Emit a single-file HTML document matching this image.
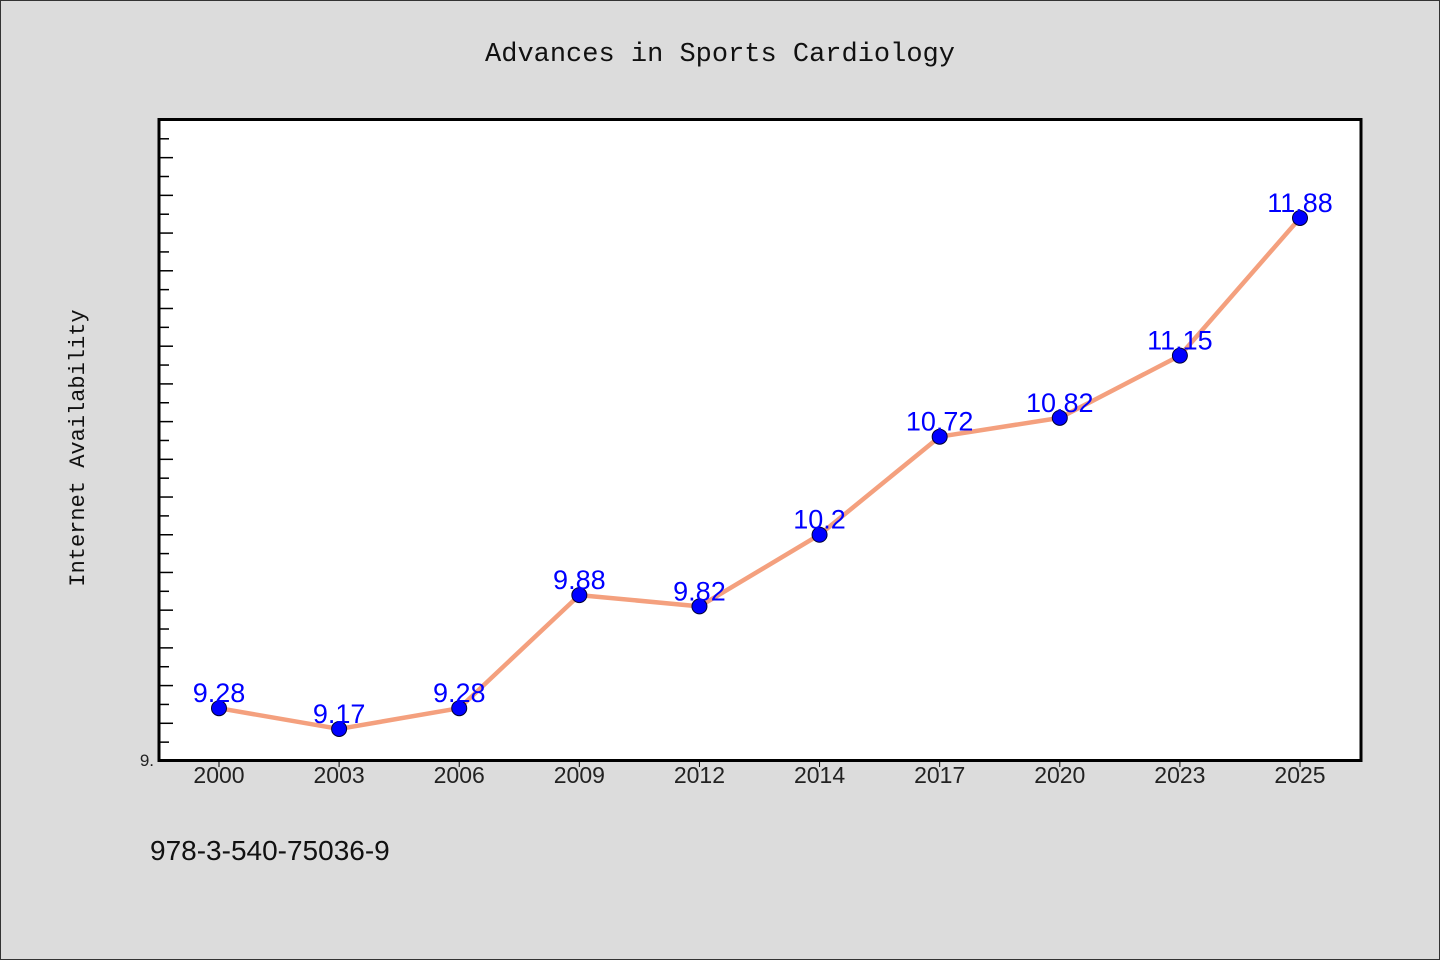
<!DOCTYPE html>
<html><head><meta charset="utf-8"><style>
body{margin:0;background:#dcdcdc;}
svg{display:block;}
</style></head><body>
<svg width="1440" height="960" xmlns="http://www.w3.org/2000/svg">
<rect x="0.5" y="0.5" width="1439" height="959" fill="#dcdcdc" stroke="#333"/>
<text x="720" y="61" text-anchor="middle" font-family="Liberation Mono, monospace" font-size="27" fill="#111">Advances in Sports Cardiology</text>
<rect x="159" y="119.5" width="1202" height="641" fill="#fff" stroke="#000" stroke-width="3"/>
<text transform="translate(84,448) rotate(-90)" text-anchor="middle" font-family="Liberation Mono, monospace" font-size="22" fill="#111">Internet Availability</text>
<text x="150" y="860" font-family="'WenQuanYi Zen Hei', 'Liberation Sans', sans-serif" font-size="28" fill="#111">978-3-540-75036-9</text>
<g id="ticks"></g><g id="xlabels"></g><g id="series"></g>
</svg>
<script>
const categories=["2000","2003","2006","2009","2012","2014","2017","2020","2023","2025"];
const values=[9.28,9.17,9.28,9.88,9.82,10.2,10.72,10.82,11.15,11.88];
const yMin=9, yMax=12.405;
const NS="http://www.w3.org/2000/svg";
const x0=159,x1=1361,yb=761,yt=119;
function xs(i){return 219+i*(1300-219)/(categories.length-1);}
function ys(v){return yb-(v-yMin)/(yMax-yMin)*(yb-yt);}
function mk(t,a,p){const e=document.createElementNS(NS,t);for(const k in a)e.setAttribute(k,a[k]);p.appendChild(e);return e;}
const tg=document.getElementById('ticks');
for(let k=1;k<=34;k++){const v=yMin+k*0.1;if(v>yMax)break;const y=ys(v);
const t=mk('line',{x1:160.5,x2:k%2?169:173,y1:y,y2:y,stroke:'#000','stroke-width':1.5},tg);

}
const yl=mk('text',{x:154,y:766,'text-anchor':'end','font-family':"'WenQuanYi Zen Hei', 'Liberation Sans', sans-serif",'font-size':17,fill:'#222'},tg);
yl.textContent='9.';


const xg=document.getElementById('xlabels');
categories.forEach((c,i)=>{
const tk=mk('line',{x1:xs(i),x2:xs(i),y1:762,y2:767,stroke:'#000','stroke-width':1},xg);


const t=mk('text',{x:xs(i),y:783,'text-anchor':'middle','font-family':"'WenQuanYi Zen Hei', 'Liberation Sans', sans-serif",'font-size':23,fill:'#222'},xg);
t.textContent=c;

});
const sg=document.getElementById('series');
const pl=mk('polyline',{points:values.map((v,i)=>xs(i)+','+ys(v)).join(' '),fill:'none',stroke:'#f4a07e','stroke-width':4.5,'stroke-linejoin':'round'},sg);


values.forEach((v,i)=>{
const c=mk('circle',{cx:xs(i),cy:ys(v),r:7.5,fill:'#0000ff',stroke:'#000033','stroke-width':1},sg);


const t=mk('text',{x:xs(i),y:ys(v)-6,'text-anchor':'middle','font-family':"'WenQuanYi Zen Hei', 'Liberation Sans', sans-serif",'font-size':27,fill:'#0000ff'},sg);
t.textContent=String(v);

});
</script>
</body></html>
